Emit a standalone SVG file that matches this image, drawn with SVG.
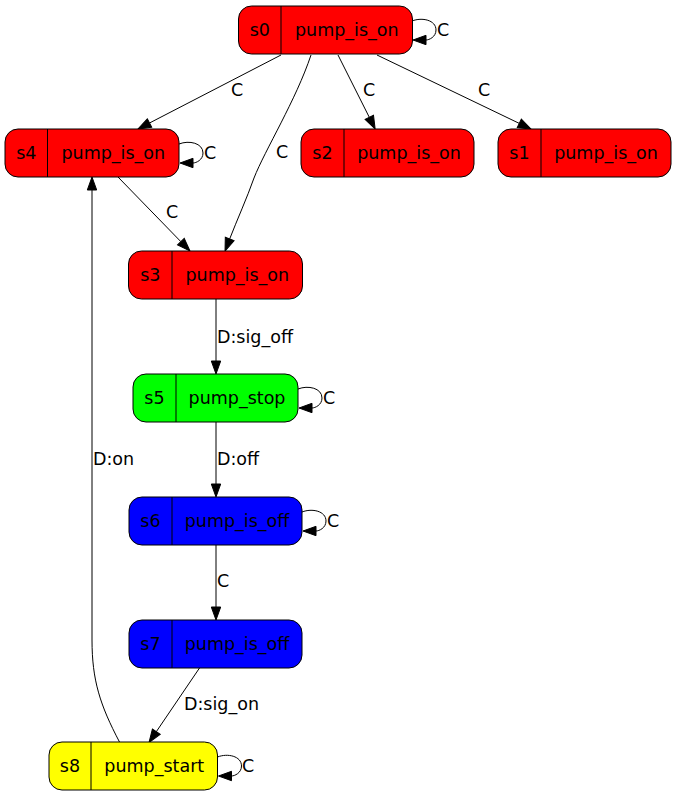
<svg xmlns="http://www.w3.org/2000/svg" width="677" height="797" viewBox="0 0 677 797">
<style>
.n{stroke:#000;stroke-width:1}
.red{fill:#ff0000}.green{fill:#00ff00}.blue{fill:#0000ff}.yellow{fill:#ffff00}
.d{stroke:#000;stroke-width:1;fill:none}
text{font-family:"DejaVu Sans",sans-serif;font-size:17.5px;fill:#000}
.m{text-anchor:middle}
.e{stroke:#000;stroke-width:1;fill:none}
.ah{fill:#000;stroke:#000;stroke-width:1}
</style>
<defs>
<marker id="arr" markerUnits="userSpaceOnUse" markerWidth="14" markerHeight="12" refX="0" refY="5" orient="auto" overflow="visible">
<path d="M0,0.3 L13,5 L0,9.7 z" fill="#000" stroke="#000" stroke-width="1"/>
</marker>
</defs>
<rect width="677" height="797" fill="#fff"/>
<g id="connectors">
<path class="e" d="M412,21 C422,17 436,20 436,30 C436,37 429,40 426,40" marker-end="url(#arr)"/>
<text x="437" y="36">C</text>
<path class="e" d="M179,144 C189,140 203,143 203,153 C203,160 196,163 193,163" marker-end="url(#arr)"/>
<text x="204" y="159">C</text>
<path class="e" d="M298,389 C308,385 322,388 322,398 C322,405 315,408 312,408" marker-end="url(#arr)"/>
<text x="323" y="404">C</text>
<path class="e" d="M302,512 C312,508 326,511 326,521 C326,528 319,531 316,531" marker-end="url(#arr)"/>
<text x="327" y="527">C</text>
<path class="e" d="M217.5,757 C227.5,753 241.5,756 241.5,766 C241.5,773 234.5,776 231.5,776" marker-end="url(#arr)"/>
<text x="242" y="772">C</text>

<path class="e" d="M281,55 L149.5,123" marker-end="url(#arr)"/>
<text x="231" y="96">C</text>
<path class="e" d="M338,55 L369.3,117.3" marker-end="url(#arr)"/>
<text x="363" y="96">C</text>
<path class="e" d="M377,55 L519.3,123.4" marker-end="url(#arr)"/>
<text x="478" y="96">C</text>
<path class="e" d="M311,55 C296,100 265,150 254,178 C247,198 237,220 229.7,238.9" marker-end="url(#arr)"/>
<text x="276" y="158">C</text>
<path class="e" d="M118,177 L180.9,241.7" marker-end="url(#arr)"/>
<text x="166" y="218">C</text>
<path class="e" d="M216,299 L216,361" marker-end="url(#arr)"/>
<text x="217" y="343">D:sig_off</text>
<path class="e" d="M216,422 L216,484" marker-end="url(#arr)"/>
<text x="217" y="465">D:off</text>
<path class="e" d="M216,545 L216,607" marker-end="url(#arr)"/>
<text x="217" y="587">C</text>
<path class="e" d="M199.5,668 L156.3,731.7" marker-end="url(#arr)"/>
<text x="184" y="710">D:sig_on</text>
<path class="e" d="M119.5,742 C100,705 92,680 92,640 L92,190" marker-end="url(#arr)"/>
<text x="93" y="465">D:on</text>
</g>
<g id="s0">
<rect class="n red" x="238.5" y="6" width="174" height="48" rx="13"/>
<line class="d" x1="281" y1="6" x2="281" y2="54"/>
<text class="m" x="259.8" y="35.5">s0</text>
<text class="m" x="346.8" y="35.5">pump_is_on</text>
</g>
<g id="s4">
<rect class="n red" x="5" y="129" width="174" height="48" rx="13"/>
<line class="d" x1="47.5" y1="129" x2="47.5" y2="177"/>
<text class="m" x="26.3" y="158.5">s4</text>
<text class="m" x="113.3" y="158.5">pump_is_on</text>
</g>
<g id="s2">
<rect class="n red" x="301" y="129" width="173" height="48" rx="13"/>
<line class="d" x1="344" y1="129" x2="344" y2="177"/>
<text class="m" x="322.5" y="158.5">s2</text>
<text class="m" x="409" y="158.5">pump_is_on</text>
</g>
<g id="s1">
<rect class="n red" x="498" y="129" width="173" height="48" rx="13"/>
<line class="d" x1="541" y1="129" x2="541" y2="177"/>
<text class="m" x="519.5" y="158.5">s1</text>
<text class="m" x="606" y="158.5">pump_is_on</text>
</g>
<g id="s3">
<rect class="n red" x="128.5" y="251" width="174" height="48" rx="13"/>
<line class="d" x1="172" y1="251" x2="172" y2="299"/>
<text class="m" x="150.3" y="280.5">s3</text>
<text class="m" x="237.3" y="280.5">pump_is_on</text>
</g>
<g id="s5">
<rect class="n green" x="133" y="374" width="165" height="48" rx="13"/>
<line class="d" x1="176" y1="374" x2="176" y2="422"/>
<text class="m" x="154.5" y="403.5">s5</text>
<text class="m" x="237" y="403.5">pump_stop</text>
</g>
<g id="s6">
<rect class="n blue" x="129" y="497" width="173" height="48" rx="13"/>
<line class="d" x1="172" y1="497" x2="172" y2="545"/>
<text class="m" x="150.5" y="526.5">s6</text>
<text class="m" x="237" y="526.5">pump_is_off</text>
</g>
<g id="s7">
<rect class="n blue" x="129" y="620" width="173" height="48" rx="13"/>
<line class="d" x1="172" y1="620" x2="172" y2="668"/>
<text class="m" x="150.5" y="649.5">s7</text>
<text class="m" x="237" y="649.5">pump_is_off</text>
</g>
<g id="s8">
<rect class="n yellow" x="49" y="742" width="168.5" height="48" rx="13"/>
<line class="d" x1="91" y1="742" x2="91" y2="790"/>
<text class="m" x="70" y="771.5">s8</text>
<text class="m" x="154.3" y="771.5">pump_start</text>
</g>
</svg>
